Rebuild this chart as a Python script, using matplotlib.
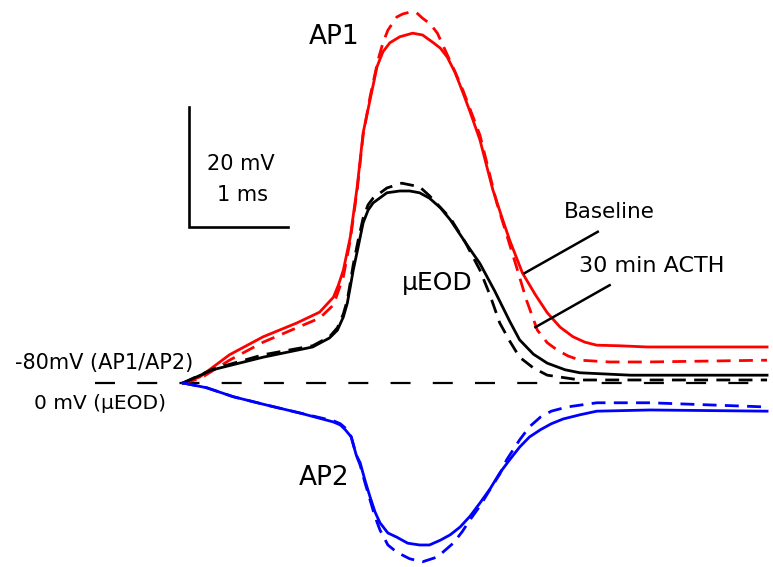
import matplotlib.pyplot as plt

# time (ms) and voltage (mV)
ap1_base_t = [0.00, 0.17, 0.47, 0.81, 1.15, 1.38, 1.52, 1.57, 1.62, 1.69, 1.76, 1.82, 1.89, 1.96, 2.02,
              2.09, 2.19, 2.32, 2.42, 2.53, 2.60, 2.67, 2.75, 2.83, 2.90, 3.00, 3.13, 3.23, 3.30,
              3.43, 3.56, 3.68, 3.81, 3.94, 4.06, 4.18, 4.41, 4.69, 5.90]
ap1_base_v = [0.0, 1.0, 4.7, 7.7, 10.0, 11.8, 14.3, 16.3, 18.8, 24.3, 32.7, 41.7, 47.2, 52.7, 55.2,
              56.7, 57.7, 58.3, 58.0, 56.7, 55.8, 54.3, 51.7, 48.3, 45.2, 40.5, 32.2, 27.2, 23.8,
              18.3, 14.7, 11.7, 9.3, 7.7, 6.8, 6.3, 6.2, 6.0, 6.0]

ap1_acth_t = [0.00, 0.17, 0.47, 0.81, 1.15, 1.38, 1.52, 1.62, 1.69, 1.76, 1.82, 1.89, 1.97, 2.02,
              2.07, 2.16, 2.22, 2.29, 2.36, 2.42, 2.50, 2.57, 2.67, 2.75, 2.83, 3.00, 3.17, 3.27,
              3.37, 3.47, 3.58, 3.68, 3.78, 3.89, 4.01, 4.31, 4.69, 5.90]
ap1_acth_v = [0.0, 0.7, 3.8, 6.8, 9.2, 10.8, 13.0, 17.7, 23.8, 32.2, 41.3, 47.7, 53.8, 56.7,
              58.8, 61.0, 61.5, 61.8, 61.7, 60.8, 59.8, 58.3, 54.7, 51.8, 48.7, 41.3, 30.0, 24.7,
              19.3, 13.8, 8.8, 6.7, 5.5, 4.5, 3.8, 3.5, 3.5, 3.8]

eod_base_t = [0.00, 0.30, 0.81, 1.31, 1.48, 1.56, 1.62, 1.66, 1.69, 1.72, 1.77, 1.82, 1.87, 1.92,
              2.06, 2.19, 2.29, 2.39, 2.49, 2.60, 2.70, 2.87, 3.00, 3.15, 3.30, 3.40, 3.54, 3.68,
              3.86, 4.01, 4.52, 5.90]
eod_base_v = [0.0, 2.2, 4.3, 6.0, 7.5, 8.8, 11.0, 13.3, 16.0, 18.8, 22.7, 26.7, 28.8, 30.0,
              31.7, 32.0, 32.0, 31.7, 30.8, 29.2, 27.2, 23.0, 19.9, 15.3, 10.3, 7.2, 4.8, 3.3,
              2.2, 1.7, 1.3, 1.3]

eod_acth_t = [0.00, 0.30, 0.81, 1.31, 1.48, 1.56, 1.62, 1.66, 1.69, 1.72, 1.77, 1.82, 1.87, 1.92,
              2.06, 2.21, 2.39, 2.49, 2.70, 2.85, 3.00, 3.10, 3.20, 3.30, 3.40, 3.54, 3.68, 4.01, 5.90]
eod_acth_v = [0.0, 2.3, 4.7, 6.2, 7.7, 9.2, 11.5, 13.8, 16.7, 19.7, 23.8, 27.5, 29.7, 30.8,
              32.5, 33.3, 32.7, 31.2, 27.5, 23.5, 18.8, 14.7, 10.0, 7.0, 4.3, 2.5, 1.3, 0.5, 0.5]

ap2_base_t = [0.00, 0.24, 0.51, 0.85, 1.18, 1.52, 1.59, 1.64, 1.70, 1.75, 1.79, 1.84, 1.89, 1.94,
              1.99, 2.07, 2.16, 2.27, 2.39, 2.49, 2.60, 2.70, 2.80, 2.90, 3.00, 3.10, 3.20, 3.30,
              3.40, 3.50, 3.61, 3.72, 3.84, 4.01, 4.18, 4.72, 5.90]
ap2_base_v = [0.0, -0.8, -2.3, -3.7, -5.0, -6.5, -7.0, -7.8, -9.0, -12.0, -13.3, -16.3, -19.0, -21.5,
              -23.3, -25.0, -25.7, -26.7, -27.0, -27.0, -26.2, -25.3, -24.0, -22.2, -20.0, -17.7, -15.0, -12.8,
              -10.7, -9.0, -7.8, -6.8, -6.0, -5.3, -4.7, -4.5, -4.7]

ap2_acth_t = [0.00, 0.24, 0.51, 0.85, 1.18, 1.52, 1.59, 1.64, 1.70, 1.75, 1.79, 1.84, 1.89, 1.94,
              1.99, 2.07, 2.16, 2.29, 2.42, 2.57, 2.73, 2.82, 2.90, 3.00, 3.10, 3.20, 3.27, 3.40,
              3.50, 3.61, 3.72, 3.88, 4.18, 4.72, 5.90]
ap2_acth_v = [0.0, -0.8, -2.3, -3.7, -5.0, -6.3, -6.8, -7.5, -9.0, -12.0, -13.7, -16.7, -19.5, -22.3,
              -24.5, -27.0, -28.2, -29.3, -29.8, -29.0, -26.7, -24.8, -22.8, -20.5, -17.8, -15.2, -12.8, -9.5,
              -7.3, -5.7, -4.7, -4.0, -3.3, -3.3, -4.0]

fig = plt.figure(figsize=(7.73, 5.67), dpi=100)
ax = fig.add_axes([0, 0, 1, 1])
ax.set_xlim(-1.848, 5.960)
ax.set_ylim(-30.67, 63.83)
ax.axis('off')

lw = 2.0
dash = (5, 3)

# zero / resting line
ax.plot([-0.89, 5.93], [0, 0], color='black', lw=1.6, dashes=(9, 10))

ax.plot(ap1_base_t, ap1_base_v, color='#ff0000', lw=lw)
ax.plot(ap1_acth_t, ap1_acth_v, color='#ff0000', lw=lw, dashes=dash)
ax.plot(eod_base_t, eod_base_v, color='black', lw=lw)
ax.plot(eod_acth_t, eod_acth_v, color='black', lw=lw, dashes=dash)
ax.plot(ap2_base_t, ap2_base_v, color='#0000ff', lw=lw)
ax.plot(ap2_acth_t, ap2_acth_v, color='#0000ff', lw=lw, dashes=dash)

# scale bar: 20 mV / 1 ms
ax.plot([0.06, 0.06, 1.06], [46, 26, 26], color='black', lw=1.9, solid_joinstyle='miter')
ax.text(0.58, 36.5, '20 mV', fontsize=15, ha='center', va='center')
ax.text(0.60, 31.3, '1 ms', fontsize=15, ha='center', va='center')

ax.text(1.525, 57.7, 'AP1', fontsize=19, ha='center', va='center')
ax.text(1.43, -15.8, 'AP2', fontsize=19, ha='center', va='center')
ax.text(2.57, 16.7, 'μEOD', fontsize=18, ha='center', va='center')

ax.text(4.31, 28.5, 'Baseline', fontsize=15.5, ha='center', va='center')
ax.text(4.73, 19.5, '30 min ACTH', fontsize=16, ha='center', va='center')
ax.plot([4.19, 3.45], [25.2, 18.3], color='black', lw=1.8)
ax.plot([4.31, 3.56], [16.3, 9.3], color='black', lw=1.8)

ax.text(0.10, 3.3, '-80mV (AP1/AP2)', fontsize=15, ha='right', va='center')
ax.text(-0.84, -3.5, '0 mV (μEOD)', fontsize=14.5, ha='center', va='center')

fig.savefig('out.png', dpi=100)
